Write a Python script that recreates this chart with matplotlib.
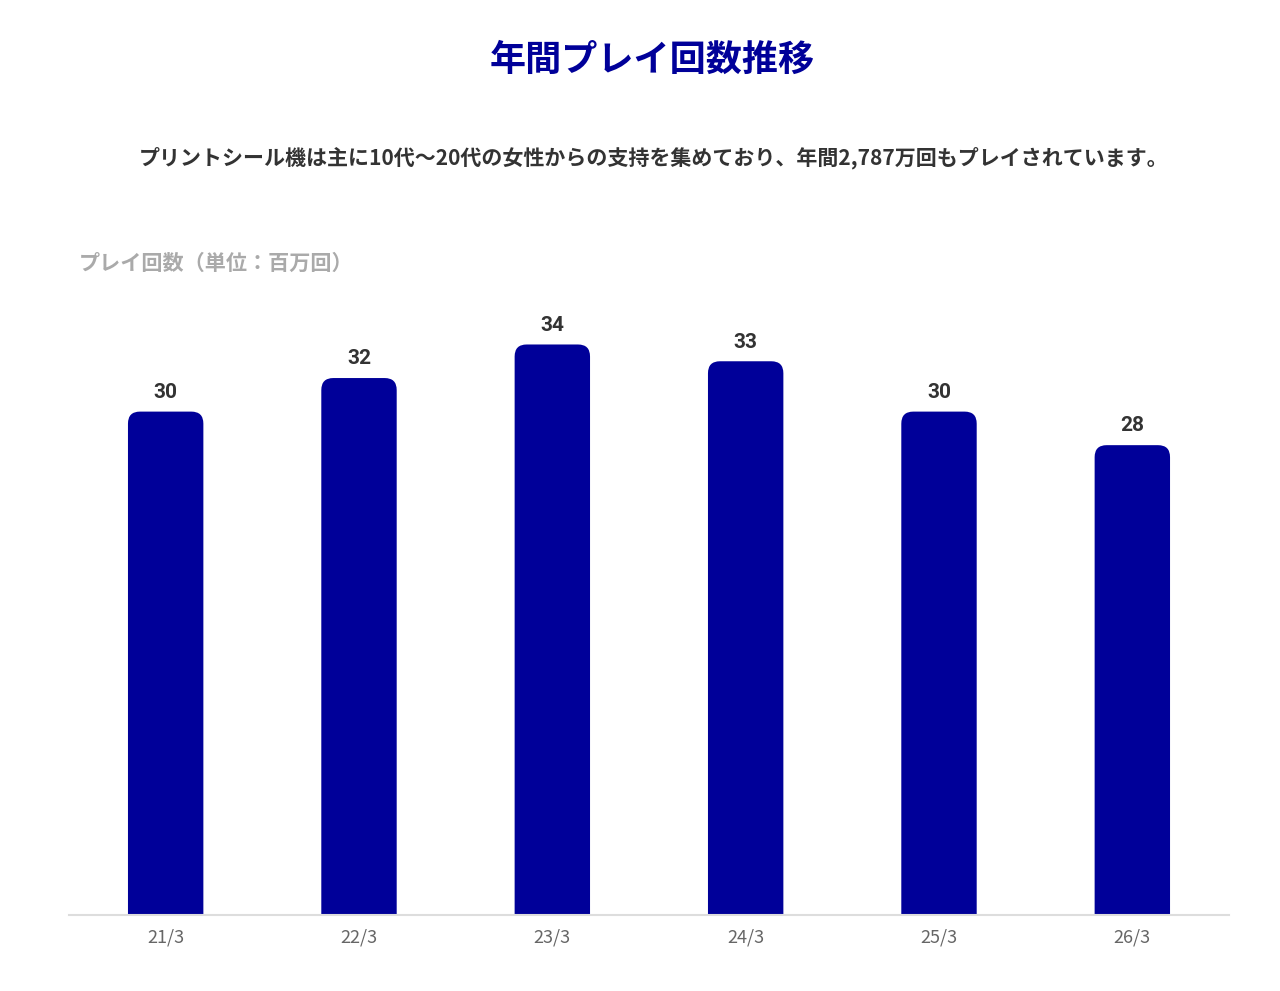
import matplotlib
matplotlib.use("Agg")
import matplotlib.pyplot as plt
from matplotlib.patches import FancyBboxPatch

plt.rcParams['font.family'] = ['Noto Sans CJK JP', 'DejaVu Sans']

categories = ["21/3", "22/3", "23/3", "24/3", "25/3", "26/3"]
values = [30, 32, 34, 33, 30, 28]
title = "年間プレイ回数推移"
subtitle = "プリントシール機は主に10代〜20代の女性からの支持を集めており、年間2,787万回もプレイされています。"
ylabel = "プレイ回数（単位：百万回）"

bar_color = "#000099"

fig = plt.figure(figsize=(12.8, 9.91), dpi=100)
W, H = 1280, 991
ax_left, ax_right = 69, 1229
ax_top, ax_bottom = 300, 915
ax = fig.add_axes([ax_left / W, 1 - ax_bottom / H, (ax_right - ax_left) / W, (ax_bottom - ax_top) / H])

ax.set_xlim(-0.5, len(categories) - 0.5)
px_per_unit_y = 16.78
ymax = (ax_bottom - ax_top) / px_per_unit_y
ax.set_ylim(0, ymax)

bar_w = 0.39
bars = ax.bar(range(len(categories)), values, width=bar_w, color=bar_color)

# rounded tops: replace each bar by a rounded box whose bottom is clipped by the axes
px_per_unit_x = (ax_right - ax_left) / len(categories)
r_px = 12
rx = r_px / px_per_unit_x
ry = r_px / px_per_unit_y
for b in bars:
    x0, w, h = b.get_x(), b.get_width(), b.get_height()
    b.set_visible(False)
    p = FancyBboxPatch((x0, -3 * ry), w, h + 3 * ry,
                       boxstyle=f"round,pad=0,rounding_size={rx}",
                       mutation_aspect=ry / rx,
                       facecolor=bar_color, edgecolor="none", zorder=2)
    ax.add_patch(p)

for i, v in enumerate(values):
    ax.annotate(f"{v}", (i, v), xytext=(0, 7), textcoords="offset points",
                ha="center", va="bottom", fontsize=15, fontweight="bold",
                color="#333333", family=["Roboto", "DejaVu Sans"])

ax.set_xticks(range(len(categories)))
ax.set_xticklabels(categories, fontsize=13, color="#666666")
ax.tick_params(axis="x", length=0, pad=10)
ax.set_yticks([])
for s in ["top", "right", "left"]:
    ax.spines[s].set_visible(False)
ax.spines["bottom"].set_color("#dddddd")
ax.spines["bottom"].set_linewidth(1.5)
ax.spines["bottom"].set_zorder(3)

fig.text(652 / W, 1 - 60 / H, title, ha="center", va="center", fontsize=26,
         fontweight="bold", color=bar_color)
fig.text(654 / W, 1 - 158 / H, subtitle, ha="center", va="center", fontsize=15.1,
         fontweight="bold", color="#333333")
fig.text(79 / W, 1 - 263 / H, ylabel, ha="left", va="center", fontsize=15.2,
         fontweight="bold", color="#aaaaaa")

fig.savefig("out.png", dpi=100)
